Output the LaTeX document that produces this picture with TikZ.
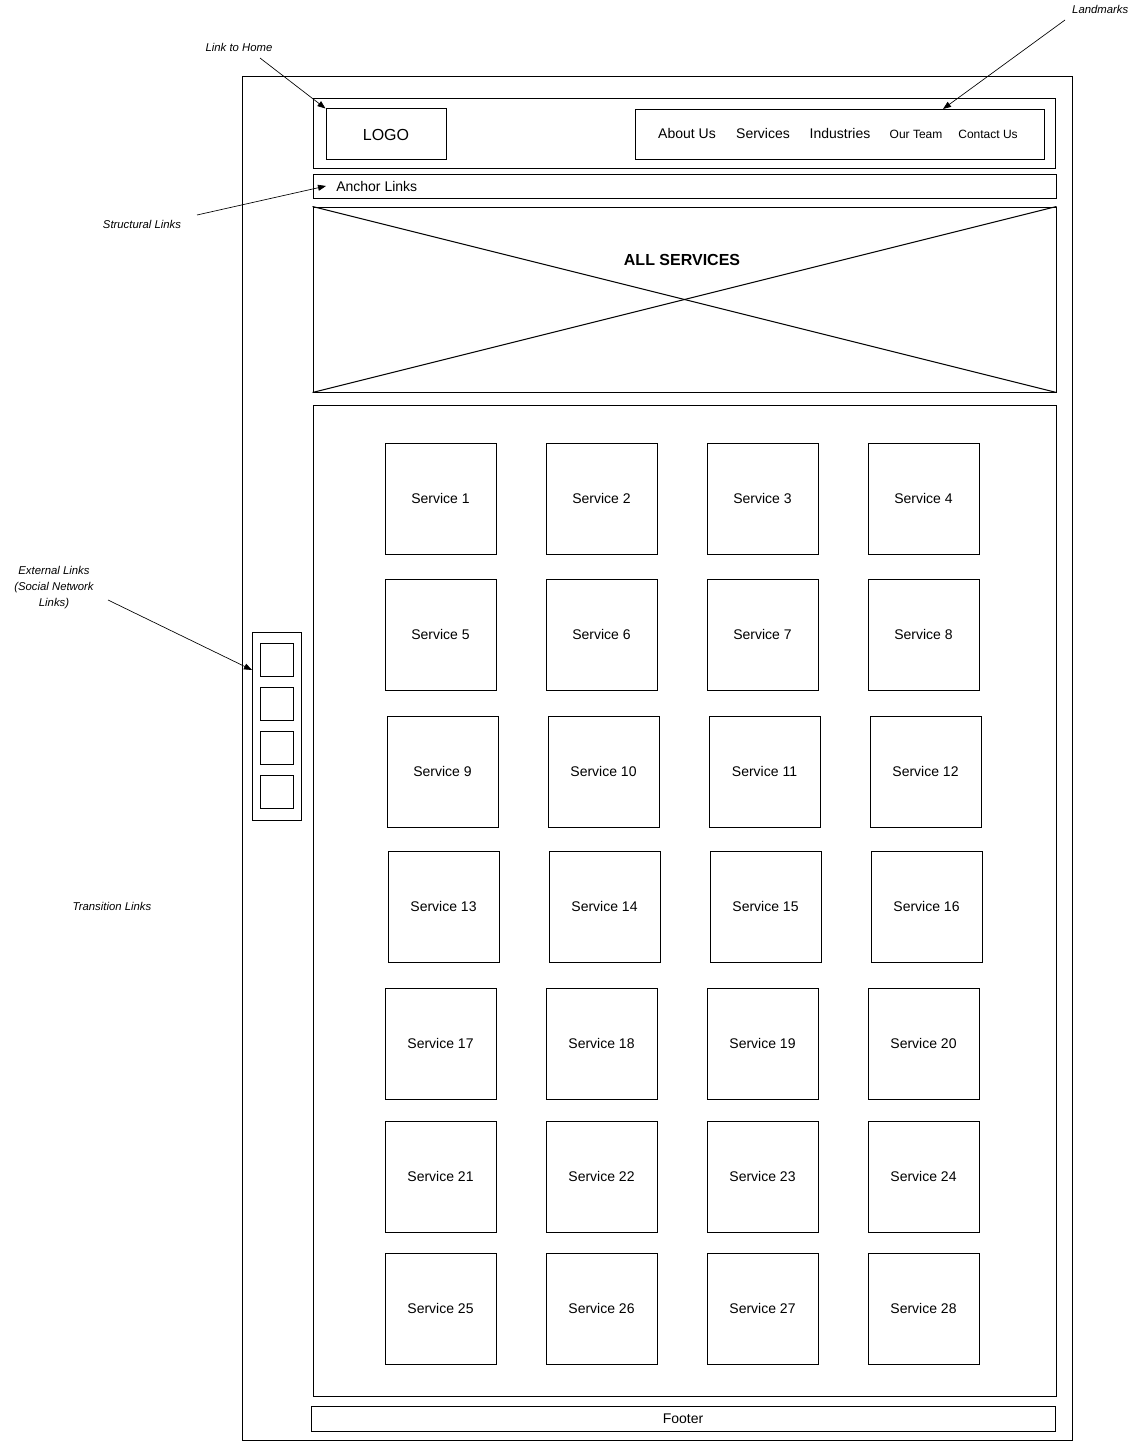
\documentclass[tikz,border=0pt]{standalone}
\usepackage{fontspec}
\setmainfont{Liberation Sans}
\usepackage{tikz}
\usetikzlibrary{positioning,arrows.meta,calc}

\tikzset{
  wire/.style={line width=0.75pt},
  box/.style={draw, wire, inner sep=0pt},
  svcbox/.style={box, minimum width=111*0.75pt, minimum height=111*0.75pt, font=\fontsize{10.5}{12}\selectfont},
  navtext/.style={font=\fontsize{10.5}{12}\selectfont},
  navsmall/.style={font=\fontsize{9}{11}\selectfont},
  note/.style={font=\fontsize{8.5}{12}\selectfont\itshape, align=center},
  pointer/.style={line width=0.5pt, -{Triangle[length=6pt,width=4.5pt]}}
}

\begin{document}
\begin{tikzpicture}[x=0.75pt, y=-0.75pt]
                \useasboundingbox (0,0) rectangle (1143,1441);
                % page frame
                \node[box, minimum width=830*0.75pt, minimum height=1363*0.75pt] (page) at (657,758.5) {};
                % header
                \node[box, minimum width=742*0.75pt, minimum height=70*0.75pt] (header) at (684,134) {};
                \node[box, minimum width=120*0.75pt, minimum height=51*0.75pt, font=\fontsize{12}{14}\selectfont] (logo) at (386,134.5) {LOGO};
                \node[box, minimum width=409*0.75pt, minimum height=50*0.75pt] (nav) at (839.5,135) {};
                \node[navtext] (about) at (687,133.5) {About Us};
                \node[navtext] (services) at (763,133.5) {Services};
                \node[navtext] (industries) at (840,133.5) {Industries};
                \node[navsmall] (team) at (916,134.5) {Our Team};
                \node[navsmall] (contact) at (988,134.5) {Contact Us};
                % anchor bar
                \node[box, minimum width=743*0.75pt, minimum height=23*0.75pt] (anchorbar) at (684.5,186.5) {};
                \node[navtext, anchor=west, inner sep=0pt] (anchortext) at (336,186) {Anchor Links};
                % hero image
                \node[box, minimum width=743*0.75pt, minimum height=185*0.75pt] (hero) at (684.5,299.5) {};
                \draw[wire] (hero.north west) -- (hero.south east);
                \draw[wire] (hero.south west) -- (hero.north east);
                \node[font=\fontsize{12}{14}\selectfont\bfseries] (herotitle) at (682,260) {ALL SERVICES};
                % services area
                \node[box, minimum width=743*0.75pt, minimum height=991*0.75pt] (content) at (684.5,900.5) {};
                \foreach \row/\top/\off in {1/443/0, 2/579/0, 3/716/2, 4/851/3, 5/988/0, 6/1121/0, 7/1253/0} {
                  \foreach \col/\left in {1/385, 2/546, 3/707, 4/868} {
                    \pgfmathtruncatemacro{\num}{4*(\row-1)+\col}
                    \node[svcbox] (svc\num) at (\left+\off+55.5,\top+55.5) {Service \num};
                  }
                }
                % footer
                \node[box, minimum width=744*0.75pt, minimum height=25*0.75pt, font=\fontsize{10.5}{12}\selectfont] (footer) at (683,1418.5) {Footer};
                % social links
                \node[box, minimum width=49*0.75pt, minimum height=188*0.75pt] (social) at (276.5,726) {};
                \foreach \i/\y in {1/659.5, 2/703.5, 3/747.5, 4/791.5} {
                  \node[box, minimum width=33*0.75pt, minimum height=33*0.75pt] (icon\i) at (276.5,\y) {};
                }
                % annotations
                \node[note, anchor=east] (landmarks) at (1133,9) {Landmarks};
                \node[note] (homenote) at (239,47) {Link to Home};
                \node[note] (structnote) at (142,224) {Structural Links};
                \node[note] (extnote) at (54,588) {External Links\\(Social Network\\Links)};
                \node[note] (transnote) at (112,906) {Transition Links};
                \coordinate (landfrom) at (1065,20);
                \coordinate (landto) at (943,109);
                \coordinate (homefrom) at (260,58);
                \coordinate (structfrom) at (197,215);
                \coordinate (structto) at (326,186);
                \coordinate (extfrom) at (108,600);
                \coordinate (extto) at (252,670);
                \draw[pointer] (landfrom) -- (landto);
                \draw[pointer] (homefrom) -- (logo.north west);
                \draw[pointer] (structfrom) -- (structto);
                \draw[pointer] (extfrom) -- (extto);
            \end{tikzpicture}
\end{document}
